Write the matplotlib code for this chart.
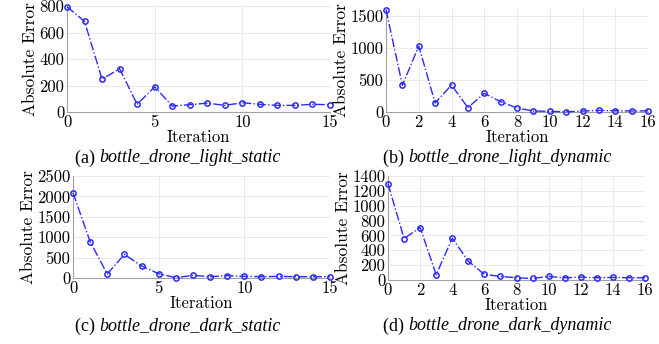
import matplotlib

matplotlib.use("Agg")
import matplotlib.pyplot as plt

plt.rcParams["font.family"] = "cmr10"
plt.rcParams["axes.unicode_minus"] = False

W, H = 659, 344

# error per iteration
light_static = [795, 684, 247, 327, 58, 190, 45, 55, 67, 50, 70, 58, 50, 50, 58, 55]
light_dynamic = [1600, 417, 1031, 140, 422, 68, 292, 161, 62, 16, 10, 3, 15, 25, 20, 15, 18]
dark_static = [2091, 890, 98, 580, 294, 105, 8, 65, 32, 57, 40, 32, 40, 32, 32, 32]
dark_dynamic = [1297, 558, 706, 70, 562, 254, 75, 48, 30, 21, 48, 30, 39, 30, 35, 30, 30]

captions = ["bottle_drone_light_static", "bottle_drone_light_dynamic",
            "bottle_drone_dark_static", "bottle_drone_dark_dynamic"]
letters = ["(a)", "(b)", "(c)", "(d)"]

panels = [
    # data, (left, right, top, bottom) px, ylim, yticks, xticks
    (light_static, (67, 330, 6, 112), 800, [0, 200, 400, 600, 800], [0, 5, 10, 15]),
    (light_dynamic, (386, 648, 9, 112), 1610, [0, 500, 1000, 1500], list(range(0, 17, 2))),
    (dark_static, (73, 330, 176, 278), 2500, [0, 500, 1000, 1500, 2000, 2500], [0, 5, 10, 15]),
    (dark_dynamic, (388, 645, 176, 280), 1400, list(range(0, 1401, 200)), list(range(0, 17, 2))),
]
# caption centres (px)
caption_xy = [(178, 158), (497, 158), (178, 326), (497, 326)]

fig = plt.figure(figsize=(W / 100, H / 100), dpi=100)
for data, (l, r, t, b), ymax, yt, xt in panels:
    ax = fig.add_axes([l / W, 1 - b / H, (r - l) / W, (b - t) / H])
    ax.plot(range(len(data)), data, color="#2a2aff", ls="-.", lw=1.0,
            marker="o", ms=3.8, mfc="none", mew=1.1, clip_on=False, zorder=3)
    ax.set_xlim(0, len(data) - 1)
    ax.set_ylim(0, ymax)
    ax.set_xticks(xt)
    ax.set_yticks(yt)
    ax.grid(True, color="#e6e6e6", lw=0.6)
    ax.tick_params(length=0, labelsize=12, pad=2)
    for s in ("top", "right"):
        ax.spines[s].set_visible(False)
    for s in ("left", "bottom"):
        ax.spines[s].set_color("#a0a0a0")
        ax.spines[s].set_linewidth(0.8)
    ax.set_xlabel("Iteration", fontsize=12, labelpad=0)
    ax.set_ylabel("Absolute Error", fontsize=12.5, labelpad=1)

# captions: upright letter + italic name, centred together
renderer = fig.canvas.get_renderer()
for (cx, cy), let, cap in zip(caption_xy, letters, captions):
    t1 = fig.text(0, 1 - cy / H, let + " ", ha="left", va="center",
                  family="Liberation Serif", fontsize=13)
    t2 = fig.text(0, 1 - cy / H, cap, ha="left", va="center",
                  family="Liberation Serif", style="italic", fontsize=13)
    w1 = t1.get_window_extent(renderer).width
    w2 = t2.get_window_extent(renderer).width
    x0 = cx - (w1 + w2) / 2
    t1.set_x(x0 / W)
    t2.set_x((x0 + w1) / W)

fig.savefig("out.png", dpi=100, facecolor="white")
